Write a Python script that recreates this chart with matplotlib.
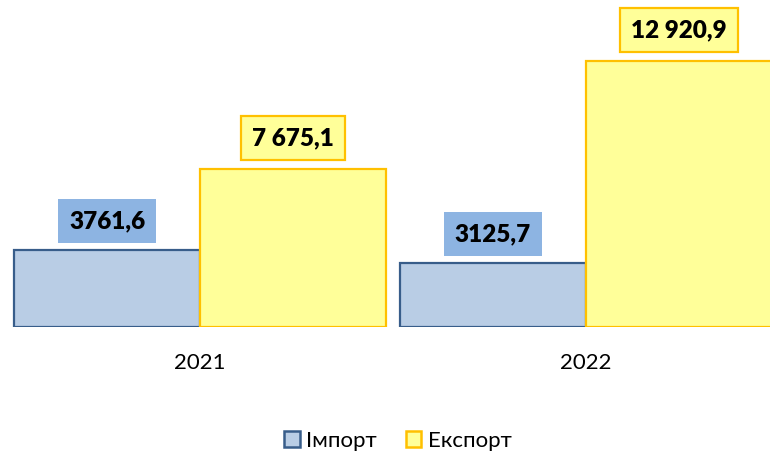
import matplotlib
matplotlib.use("Agg")
import matplotlib.pyplot as plt
from matplotlib.patches import Patch
import numpy as np

categories = ["2021", "2022"]
import_vals = [3761.6, 3125.7]
export_vals = [7675.1, 12920.9]
import_labels = ["3761,6", "3125,7"]
export_labels = ["7 675,1", "12 920,9"]
series_names = ["Імпорт", "Експорт"]

plt.rcParams['font.family'] = ['Lato', 'DejaVu Sans']

imp_face, imp_edge = "#B9CDE5", "#385D8A"
exp_face, exp_edge = "#FFFF99", "#FFC000"
imp_box = "#8DB4E2"

fig = plt.figure(figsize=(7.7, 4.55), dpi=100)
ax = fig.add_axes([0, 1 - 327 / 455, 1, 327 / 455])

x = np.arange(len(categories))
w = 186 / 386
ax.bar(x - w / 2, import_vals, width=w, facecolor=imp_face, edgecolor=imp_edge, linewidth=1.6)
ax.bar(x + w / 2, export_vals, width=w, facecolor=exp_face, edgecolor=exp_edge, linewidth=1.6)

for i in range(len(categories)):
    ax.annotate(import_labels[i], (x[i] - w / 2, import_vals[i]), xytext=(0, 20.5),
                textcoords="offset points", ha="center", va="center",
                fontsize=17.5, fontweight="heavy",
                bbox=dict(boxstyle="square,pad=0.45", facecolor=imp_box, edgecolor="none"))
    ax.annotate(export_labels[i], (x[i] + w / 2, export_vals[i]), xytext=(0, 22),
                textcoords="offset points", ha="center", va="center",
                fontsize=17.5, fontweight="heavy",
                bbox=dict(boxstyle="square,pad=0.45", facecolor=exp_face, edgecolor=exp_edge, linewidth=1.6))

ax.set_xlim((0 - 200) / 386, (770 - 200) / 386)
ax.set_ylim(0, 327 / 0.02059)
ax.set_xticks(x)
ax.set_xticklabels(categories, fontsize=16)
ax.tick_params(axis="x", length=0, pad=19)
ax.set_yticks([])
for s in ax.spines.values():
    s.set_visible(False)

handles = [Patch(facecolor=imp_face, edgecolor=imp_edge, linewidth=1.8),
           Patch(facecolor=exp_face, edgecolor=exp_edge, linewidth=1.8)]
fig.legend(handles, series_names, loc="center", bbox_to_anchor=(398 / 770, 1 - 441 / 455),
           ncol=2, frameon=False, fontsize=16, handlelength=0.7, handleheight=0.7,
           handletextpad=0.3, columnspacing=1.3)

fig.savefig("out.png", dpi=100)
